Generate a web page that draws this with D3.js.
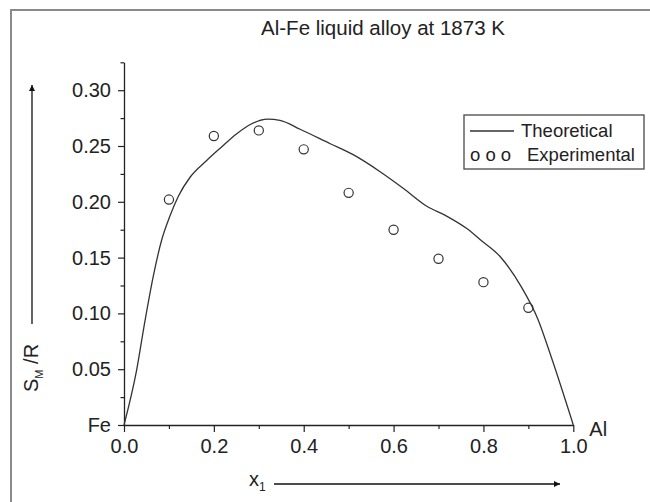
<!DOCTYPE html>
<html>
<head>
<meta charset="utf-8">
<script src="https://cdn.jsdelivr.net/npm/d3@7"></script>
<style>
body { margin:0; background:#fff; }
svg { display:block; font-family:"Liberation Sans", Arial, sans-serif; }
</style>
</head>
<body>
<div id="chart"></div>
<script>
(function(){

// composition x1 (Al), S_M/R values
var theoX = [0, 0.028, 0.047, 0.065, 0.084, 0.102, 0.121, 0.147, 0.184, 0.214, 0.251, 0.28, 0.32, 0.347, 0.392, 0.459, 0.511, 0.57, 0.622, 0.674, 0.719, 0.763, 0.793, 0.837, 0.884, 0.921, 0.95, 1.0]
var theoY = [0, 0.049, 0.094, 0.133, 0.166, 0.187, 0.205, 0.222, 0.237, 0.248, 0.261, 0.269, 0.274, 0.273, 0.265, 0.252, 0.242, 0.227, 0.212, 0.196, 0.187, 0.176, 0.166, 0.151, 0.124, 0.095, 0.062, 0]

var expX = [0.1, 0.2, 0.3, 0.4, 0.5, 0.6, 0.7, 0.8, 0.9]
var expY = [0.202, 0.259, 0.264, 0.247, 0.208, 0.175, 0.149, 0.128, 0.105]

var xTicks = [0, 0.2, 0.4, 0.6, 0.8, 1.0]
var xMinor = [0.1, 0.3, 0.5, 0.7, 0.9]
var yTicks = [0, 0.05, 0.10, 0.15, 0.20, 0.25, 0.30]
var yMinor = [0.025, 0.075, 0.125, 0.175, 0.225, 0.275, 0.325]

var title = "Al-Fe liquid alloy at 1873 K"
var legendLabels = ["Theoretical", "Experimental"]

var W = 650, H = 502
var ink = "#222"

var svg = d3.select("#chart").append("svg")
	.attr("width", W)
	.attr("height", H)

// outer frame (right and bottom edges lie outside the picture)
svg.append("rect")
	.attr("x", 11).attr("y", 10)
	.attr("width", 700).attr("height", 600)
	.style("fill", "none")
	.style("stroke", "#8a8a8a")
	.style("stroke-width", 2)

var x = d3.scaleLinear().domain([0, 1]).range([124, 573.3])
var y = d3.scaleLinear().domain([0, 0.325]).range([425, 62.3])

svg.append("text")
	.attr("x", 383).attr("y", 35)
	.style("text-anchor", "middle")
	.style("font-size", "20.5px")
	.style("fill", ink)
	.text(title)

// axes
var gx = svg.append("g").attr("transform", "translate(0," + y(0) + ")")
gx.call(d3.axisBottom(x).tickValues(xTicks).tickSize(7).tickSizeOuter(0).tickPadding(7)
	.tickFormat(d3.format(".1f")))
gx.append("g").call(d3.axisBottom(x).tickValues(xMinor).tickSize(4).tickFormat(""))
	.select(".domain").remove()

var gy = svg.append("g").attr("transform", "translate(" + x(0) + ",0)")
gy.call(d3.axisLeft(y).tickValues(yTicks).tickSize(6).tickSizeOuter(0).tickPadding(7)
	.tickFormat(function(d){ return d == 0 ? "Fe" : d3.format(".2f")(d) }))
gy.append("g").call(d3.axisLeft(y).tickValues(yMinor).tickSize(3.5).tickFormat(""))
	.select(".domain").remove()

svg.selectAll(".domain").style("stroke", ink).style("stroke-width", 1.3)
svg.selectAll(".tick line").style("stroke", ink).style("stroke-width", 1.2)
svg.selectAll(".tick text")
	.style("font-family", "Liberation Sans, Arial, sans-serif")
	.style("font-size", "20px")
	.style("fill", ink)

// "Al" at the right end of x axis
svg.append("text")
	.attr("x", x(1) + 16).attr("y", y(0) + 11)
	.style("font-size", "20px")
	.style("fill", ink)
	.text("Al")

// theoretical curve
var theo = theoX.map(function(d, i){ return [d, theoY[i]] })
var line = d3.line()
	.x(function(d){ return x(d[0]) })
	.y(function(d){ return y(d[1]) })
	.curve(d3.curveMonotoneX)

svg.append("path")
	.datum(theo)
	.attr("d", line)
	.style("fill", "none")
	.style("stroke", "#333")
	.style("stroke-width", 1.3)

// experimental points
var exp = expX.map(function(d, i){ return [d, expY[i]] })
svg.selectAll(".exp").data(exp).enter()
	.append("circle")
	.attr("class", "exp")
	.attr("cx", function(d){ return x(d[0]) })
	.attr("cy", function(d){ return y(d[1]) })
	.attr("r", 4.6)
	.style("fill", "none")
	.style("stroke", "#333")
	.style("stroke-width", 1.2)

// legend
var leg = svg.append("g").attr("transform", "translate(464,115)")
leg.append("rect")
	.attr("width", 180).attr("height", 54)
	.style("fill", "#fff")
	.style("stroke", "#555")
	.style("stroke-width", 1.4)
leg.append("line")
	.attr("x1", 6).attr("x2", 50)
	.attr("y1", 16).attr("y2", 16)
	.style("stroke", "#333").style("stroke-width", 1.3)
leg.append("text")
	.attr("x", 57).attr("y", 22)
	.style("font-size", "18.5px").style("fill", ink)
	.text(legendLabels[0])
leg.append("text")
	.attr("x", 6).attr("y", 46)
	.style("font-size", "18.5px").style("fill", ink)
	.text("o o o")
leg.append("text")
	.attr("x", 63).attr("y", 46)
	.style("font-size", "18.5px").style("fill", ink)
	.text(legendLabels[1])

// arrow heads
var defs = svg.append("defs")
defs.append("marker")
	.attr("id", "arr")
	.attr("viewBox", "0 0 10 10")
	.attr("refX", 10).attr("refY", 5)
	.attr("markerWidth", 8).attr("markerHeight", 6)
	.attr("markerUnits", "userSpaceOnUse")
	.attr("orient", "auto")
	.append("path")
	.attr("d", "M0,0L10,5L0,10Z")
	.style("fill", "#111")

// y axis title with arrow
svg.append("line")
	.attr("x1", 32).attr("x2", 32)
	.attr("y1", 324).attr("y2", 85)
	.style("stroke", "#111").style("stroke-width", 1.3)
	.attr("marker-end", "url(#arr)")

var ylab = svg.append("text")
	.attr("transform", "translate(38,392) rotate(-90)")
	.style("font-size", "20px")
	.style("fill", ink)
ylab.append("tspan").text("S")
ylab.append("tspan").attr("dy", 5).style("font-size", "11px").text("M")
ylab.append("tspan").attr("dy", -5).text(" /R")

// x axis title with arrow
var xlab = svg.append("text")
	.attr("x", 249).attr("y", 486)
	.style("font-size", "20px")
	.style("fill", ink)
xlab.append("tspan").text("x")
xlab.append("tspan").attr("dy", 5).style("font-size", "12px").text("1")

svg.append("line")
	.attr("x1", 274).attr("x2", 560)
	.attr("y1", 484).attr("y2", 484)
	.style("stroke", "#111").style("stroke-width", 1.3)
	.attr("marker-end", "url(#arr)")

})()
</script>
</body>
</html>
